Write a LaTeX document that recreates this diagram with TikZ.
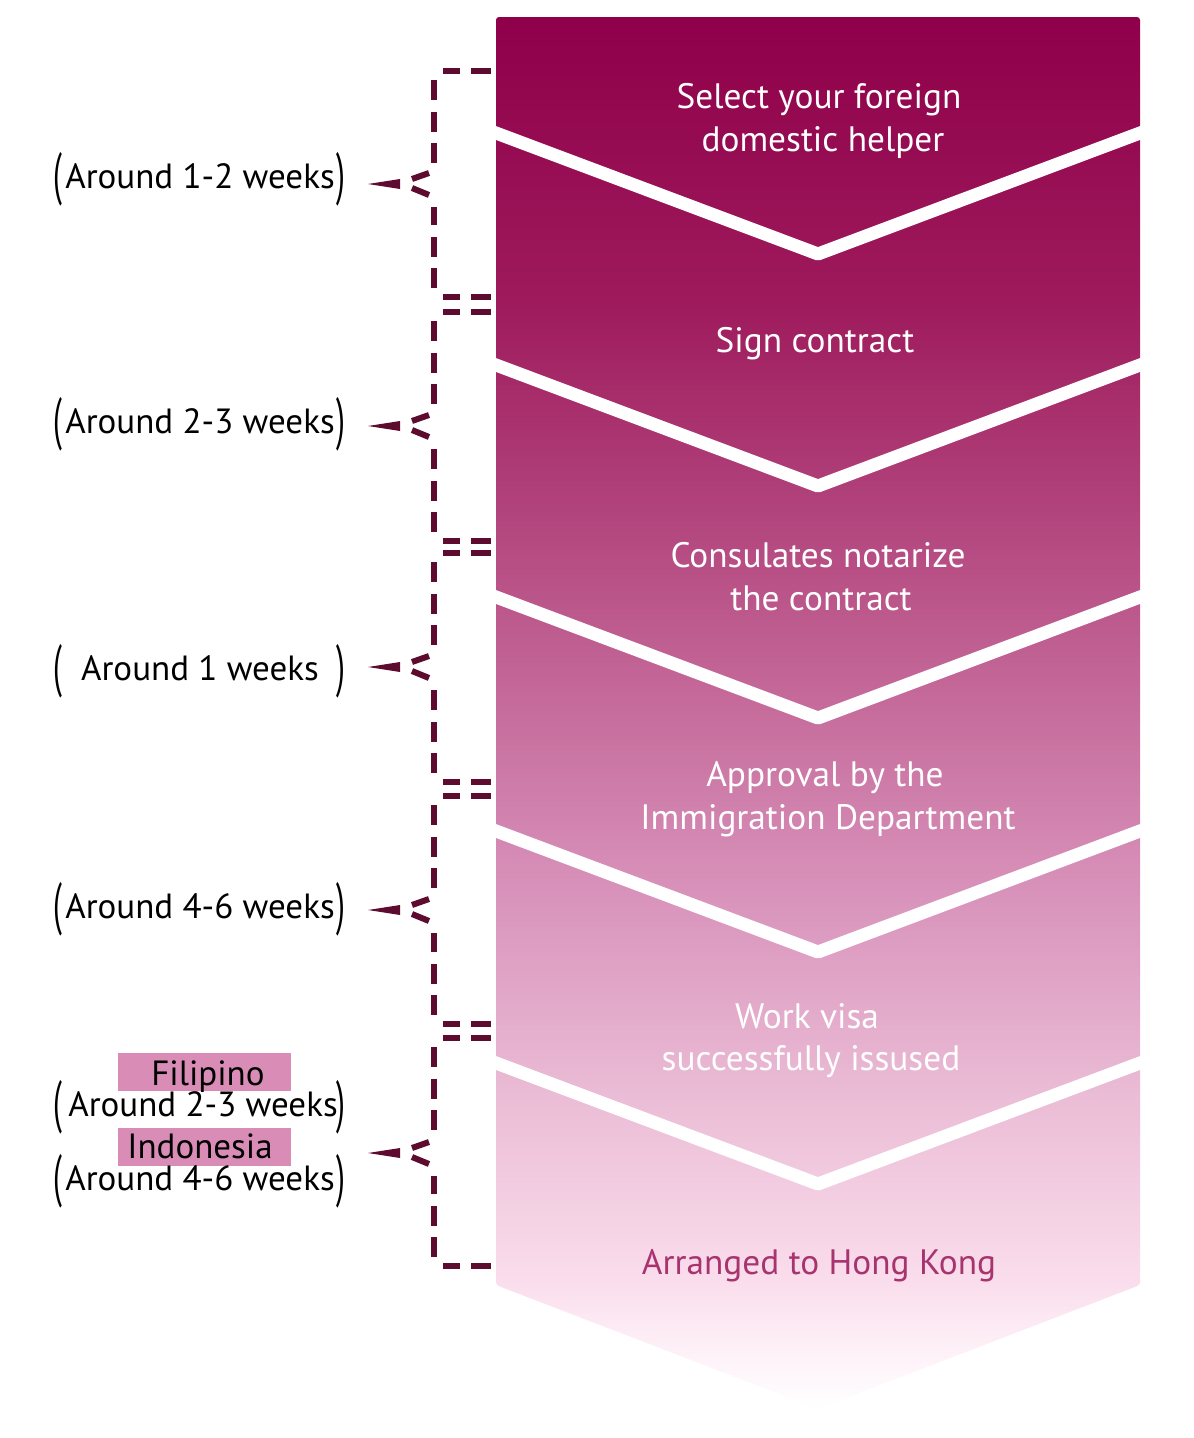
\documentclass[tikz,border=0pt]{standalone}
\usepackage{fontspec}
\setmainfont{PT Sans}
\definecolor{gA}{HTML}{8F004A}
\definecolor{gB}{HTML}{9E1A5C}
\definecolor{gC}{HTML}{B0417A}
\definecolor{gD}{HTML}{C56A9A}
\definecolor{gE}{HTML}{D994BC}
\definecolor{gF}{HTML}{EBBDD6}
\definecolor{gG}{HTML}{FADDEC}
\definecolor{gH}{HTML}{FDEEF6}
\definecolor{brk}{HTML}{5E0B30}
\definecolor{tagpink}{HTML}{D88CB6}
\definecolor{arrtext}{HTML}{A8346F}
\pgfdeclareverticalshading{colgrad}{100bp}{color(0bp)=(white); color(25bp)=(white); color(27.5bp)=(gH); color(29.6bp)=(gG); color(36.1bp)=(gF); color(43.3bp)=(gE); color(50.5bp)=(gD); color(57.7bp)=(gC); color(64.8bp)=(gB); color(75bp)=(gA); color(100bp)=(gA)}
\tikzset{
  steptext/.style={text=white, font=\fontsize{35.3}{43}\selectfont, inner sep=0pt, anchor=base},
  lab/.style={text=black, font=\fontsize{35}{43}\selectfont, inner sep=0pt, anchor=base},
  parn/.style={text=black, font=\fontsize{35}{43}\selectfont, inner sep=0pt, anchor=base},
  tagbox/.style={fill=tagpink, minimum width=173pt, minimum height=38pt, inner sep=0pt},
  sepline/.style={white, line width=13pt, line join=round},
  brkline/.style={brk, line width=6pt, dash pattern=on 20pt off 11.5pt},
  brktick/.style={brk, line width=6pt},
}
\newcommand{\lpar}{\scalebox{0.9}[1.65]{(}}
\newcommand{\rpar}{\scalebox{0.9}[1.65]{)}}
\begin{document}
\begin{tikzpicture}[x=1pt,y=-1pt]
\useasboundingbox (0,0) rectangle (1194,1438);
% chevron column
\path[shading=colgrad, rounded corners=3pt] (496,17) -- (1140,17) -- (1140,1285) -- (818,1409) -- (496,1285) -- cycle;
\foreach \s in {130,362,594,828,1060}
  \draw[sepline] (488,\s) -- (818,{\s+124}) -- (1148,\s);
% step texts
\node[steptext] (s1a) at (819,108) {Select your foreign};
\node[steptext] (s1b) at (823,151) {domestic helper};
\node[steptext] (s2) at (815,352) {Sign contract};
\node[steptext] (s3a) at (818,567) {Consulates notarize};
\node[steptext] (s3b) at (821,610) {the contract};
\node[steptext] (s4a) at (825,786) {Approval by the};
\node[steptext] (s4b) at (828,829) {Immigration Department};
\node[steptext] (s5a) at (807,1028) {Work visa};
\node[steptext] (s5b) at (811,1070) {successfully issused};
\node[steptext, text=arrtext] (s6) at (819,1274) {Arranged to Hong Kong};
% brackets
\foreach \yt/\ym/\yb in {71/184/297, 312/426/541, 553/667/782, 796/910/1024, 1038/1153/1266}{
  \coordinate (t) at (491,\yt);
  \coordinate (b) at (491,\yb);
  \draw[brkline] (t) -- (443,\yt);
  \draw[brkline] (b) -- (443,\yb);
  \draw[brkline] (434,{\yt+9}) -- (434,{\ym-21});
  \draw[brkline] (434,{\yb-9}) -- (434,{\ym+23});
  \draw[brktick] (429,{\ym-11}) -- (412,{\ym-5});
  \draw[brktick] (412,{\ym+4}) -- (429,{\ym+11});
  \fill[brk] (368,\ym) -- (400,{\ym-5}) -- (400,{\ym+5}) -- cycle;
}
% left labels
\node[lab] (l1) at (200,188) {Around 1-2 weeks};
\node[parn] (l1l) at (58,193) {\lpar};
\node[parn] (l1r) at (341,193) {\rpar};
\node[lab] (l2) at (200,433) {Around 2-3 weeks};
\node[parn] (l2l) at (58,438) {\lpar};
\node[parn] (l2r) at (341,438) {\rpar};
\node[lab] (l3) at (200,680) {Around 1 weeks};
\node[parn] (l3l) at (58,685) {\lpar};
\node[parn] (l3r) at (341,685) {\rpar};
\node[lab] (l4) at (200,918) {Around 4-6 weeks};
\node[parn] (l4l) at (58,923) {\lpar};
\node[parn] (l4r) at (341,923) {\rpar};
\node[tagbox] (fil) at (204.5,1072) {};
\node[lab] (filt) at (208,1085) {Filipino};
\node[lab] (l5) at (203,1116) {Around 2-3 weeks};
\node[parn] (l5l) at (58,1121) {\lpar};
\node[parn] (l5r) at (341,1121) {\rpar};
\node[tagbox] (ind) at (204.5,1147) {};
\node[lab] (indt) at (200,1158) {Indonesia};
\node[lab] (l6) at (200,1190) {Around 4-6 weeks};
\node[parn] (l6l) at (58,1195) {\lpar};
\node[parn] (l6r) at (341,1195) {\rpar};
\end{tikzpicture}
\end{document}
